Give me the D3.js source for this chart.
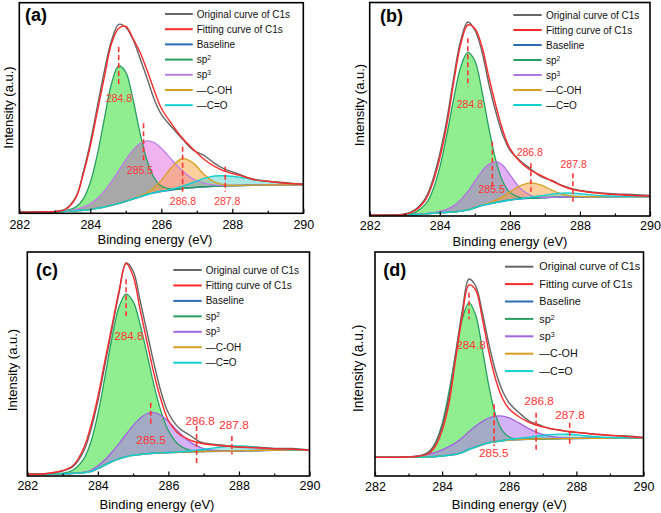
<!DOCTYPE html>
<html><head><meta charset="utf-8">
<script src="https://cdn.jsdelivr.net/npm/d3@7"></script>
<style>
body{margin:0;background:#fff}
svg{display:block}
text{font-family:"Liberation Sans",Arial,Helvetica,sans-serif}
</style>
</head><body>
<svg id="chart" width="661" height="513"></svg>
<script>
// ---------- data ----------
const energy = [282, 282.5, 283, 283.3, 283.6, 283.8, 284.0, 284.2, 284.4, 284.6, 284.8, 285.0, 285.2, 285.4, 285.6, 285.8, 286.0, 286.3, 286.6, 286.9, 287.2, 287.5, 287.8, 288.2, 288.6, 289.0, 289.5, 290];
const majorTicks = [282, 284, 286, 288, 290];
const minorTicks = [283, 285, 287, 289];
const seriesNames = ["Original curve of C1s", "Fitting curve of C1s", "Baseline", "sp2", "sp3", "\u2014C-OH", "\u2014C=O"];
const peakLabels = ["284.8", "285.5", "286.8", "287.8"];
const panelLabels = ["(a)", "(b)", "(c)", "(d)"];

// panel (a)
const a_original = [1, 1.3, 1.8, 4.3, 17, 41, 71, 107, 143, 173, 189, 186, 174, 155, 135, 114, 99, 86, 74, 63, 58, 50, 44, 39, 33.5, 32, 30.5, 29];
const a_fit      = [1, 1.3, 1.8, 3.8, 16, 39, 67, 102, 137, 170, 185, 187, 175, 161, 143, 123, 105, 89, 75, 64, 54, 47, 42, 38, 34, 32, 30, 29];
const a_baseline = [1, 1.3, 1.5, 2, 2.5, 3, 3.8, 5, 6.3, 8, 9.8, 12, 14.3, 16.5, 18.8, 20.5, 21.8, 23.3, 24.8, 25.7, 26.5, 27, 27.5, 27.8, 28.1, 28.3, 28.5, 28.6];
const a_sp2      = [0, 0, 0, 0.6, 3.9, 11.2, 27, 54, 89, 122, 137.7, 129, 100, 64, 34, 15, 5.5, 0.8, 0, 0, 0, 0, 0, 0, 0, 0, 0, 0];
const a_sp3      = [0, 0, 0.1, 0.5, 1.5, 3.1, 5.8, 10.1, 16.1, 23.9, 32.8, 41.6, 48.9, 53.3, 53.7, 50.1, 43.2, 30, 17.5, 8.6, 3.6, 1.2, 0.4, 0, 0, 0, 0, 0];
const a_COH      = [0, 0, 0, 0, 0, 0, 0, 0, 0, 0, 0, 0, 0.2, 0.6, 2, 5.3, 11.1, 23, 30, 24.5, 12.6, 4.1, 0.8, 0, 0, 0, 0, 0];
const a_CO       = [0, 0, 0, 0, 0, 0, 0, 0, 0, 0, 0, 0, 0, 0, 0, 0, 0.2, 0.8, 2.3, 5.1, 8.4, 10.3, 10, 8.3, 5.9, 3.6, 1.5, 0.5];
const a_peakPos  = [284.8, 285.5, 286.6, 287.8];

// panel (b)
const b_original = [0.7, 1, 2, 6.5, 18.5, 36, 62, 96, 139, 176, 194, 186, 165, 132, 104, 81, 66, 55, 47, 39, 35.5, 30.5, 27, 24.5, 23, 22, 21.5, 20.5];
const b_fit      = [0.7, 0.9, 1.5, 5.5, 16.5, 33, 57.7, 91, 134, 172, 191, 187.5, 170, 139, 110.5, 85.5, 67.7, 54, 45.5, 40.3, 35, 30, 26.5, 24, 22.5, 21.5, 20.5, 20];
const b_baseline = [0.7, 0.8, 1, 1.5, 2.1, 2.7, 3.2, 3.6, 4, 5, 6, 8.2, 10.5, 12, 13.5, 14.8, 16, 17, 17.7, 18.2, 18.7, 19, 19.1, 19.2, 19.3, 19.4, 19.5, 19.5];
const b_sp2      = [0, 0, 0.3, 2.2, 10, 23, 45.4, 77.6, 113.6, 144.3, 157.6, 147, 115, 76, 42.1, 19.7, 7.7, 1.4, 0.2, 0, 0, 0, 0, 0, 0, 0, 0, 0];
const b_sp3      = [0, 0, 0, 0, 0.2, 0.6, 1.4, 3.1, 6.4, 11.4, 18.4, 26.6, 34.2, 39.6, 40.8, 35.6, 25.4, 10.6, 2.8, 0.5, 0, 0, 0, 0, 0, 0, 0, 0];
const b_COH      = [0, 0, 0, 0, 0, 0, 0, 0, 0, 0, 0, 0, 0.3, 1, 2.3, 4.6, 7.9, 13.3, 15.5, 12.6, 7.2, 2.9, 0.8, 0.1, 0, 0, 0, 0];
const b_CO       = [0, 0, 0, 0, 0, 0, 0, 0, 0, 0, 0, 0, 0, 0, 0, 0, 0, 0.4, 1, 2, 3.2, 3.9, 3.8, 2.4, 1, 0.3, 0, 0];
const b_peakPos  = [284.8, 285.5, 286.6, 287.8];

// panel (c)
const c_original = [1.7, 2.2, 5, 9.5, 25, 46, 75, 111, 147, 183, 213, 205, 175, 143, 111, 83, 63, 48, 41, 34, 32, 31, 29.5, 28.5, 28.5, 27.5, 27.5, 26];
const c_fit      = [1.7, 2.3, 5.5, 10.5, 28, 50, 79, 115, 150, 185, 212.5, 200, 166, 133, 101, 75, 55.5, 42, 36.2, 33, 31.2, 30.3, 29.4, 28.7, 28, 27.3, 26.7, 26];
const c_baseline = [1.7, 1.8, 2.2, 2.6, 3.3, 4.5, 7.5, 11, 14.5, 17.3, 19.3, 20.7, 21.5, 22.2, 22.7, 23.1, 23.4, 23.8, 24.1, 24.4, 24.6, 24.8, 25, 25.3, 25.5, 25.7, 25.9, 26];
const c_sp2      = [0, 0, 0.6, 3.4, 13.8, 29.3, 54.3, 87.8, 123.5, 151.8, 162.5, 153.7, 130, 98.6, 66.8, 40.5, 22, 7.1, 1.8, 0.4, 0, 0, 0, 0, 0, 0, 0, 0];
const c_sp3      = [0, 0, 0, 0, 0.5, 1.2, 2.7, 5.2, 9.3, 15, 22.2, 29.8, 36.3, 40.3, 40.7, 37.4, 31.2, 20, 10.3, 4.3, 1.5, 0.4, 0, 0, 0, 0, 0, 0];
const c_COH      = [0, 0, 0, 0, 0, 0, 0, 0, 0, 0, 0, 0, 0, 0, 0, 0, 0, 0, 0, 0, 0, 0, 0, 0, 0, 0, 0, 0];
const c_CO       = [0, 0, 0, 0, 0, 0, 0, 0, 0, 0, 0, 0, 0, 0, 0, 0, 0, 0.4, 0.9, 1.8, 3, 4.2, 5, 4.6, 3, 1.5, 0.4, 0.1];
const c_peakPos  = [284.8, 285.5, 286.8, 287.8];

// panel (d)
const d_original = [18.7, 18.7, 19.2, 20, 24, 33, 50, 78, 122, 165, 197, 190, 163, 131, 104, 85, 73, 63, 55, 51, 47.5, 46, 44, 43, 41.5, 40.5, 40, 38.5];
const d_fit      = [18.7, 18.7, 19, 19.7, 22.5, 30, 45.5, 72, 116, 160, 191, 186, 157, 123, 96, 77.5, 67, 59, 53.5, 50, 47.7, 45.7, 44.5, 43, 41.7, 40.7, 39.5, 38.3];
const d_baseline = [18.7, 18.7, 18.7, 18.8, 19, 19.4, 20, 20.8, 21.6, 23.5, 26.5, 29, 31.3, 33.2, 34.4, 35.3, 36, 36.4, 36.7, 37, 37.2, 37.4, 37.5, 37.6, 37.7, 37.9, 38.1, 38.3];
const d_sp2      = [0, 0, 0, 0.7, 4.9, 13.8, 32.3, 62.8, 100.6, 133.6, 146.8, 131.7, 95.3, 55.5, 26, 9.8, 3, 0.3, 0, 0, 0, 0, 0, 0, 0, 0, 0, 0];
const d_sp3      = [0, 0.1, 0.6, 1.4, 2.8, 4.3, 6.2, 8.6, 11.5, 14.7, 17.9, 20.9, 23.3, 24.9, 25.5, 24.6, 22.1, 16.5, 10.5, 5.7, 2.6, 1, 0.3, 0, 0, 0, 0, 0];
const d_COH      = [0, 0, 0, 0, 0, 0, 0, 0, 0, 0, 0, 0, 0, 0, 0, 0, 0, 0, 0, 0, 0, 0, 0, 0, 0, 0, 0, 0];
const d_CO       = [0, 0, 0, 0, 0, 0, 0, 0, 0, 0, 0, 0, 0, 0, 0, 0, 0.6, 1.3, 2.2, 3.3, 4.2, 4.5, 4.2, 2.9, 1.5, 0.6, 0.1, 0];
const d_peakPos  = [284.8, 285.55, 286.8, 287.8];

// ---------- layout / styles ----------
const panels = [
  { label: panelLabels[0],
    series: {original: a_original, fit: a_fit, baseline: a_baseline, sp2: a_sp2, sp3: a_sp3, COH: a_COH, CO: a_CO},
    peaks: a_peakPos,
    L: {left: 19.3, right: 303.3, top: 2.7, bottom: 213.3, ymax: 210.6,
        tickPad: 7.3, xTitle: [155, 239], yTitle: [8, 107.5], yFont: 13, pl: [25, 15],
        leg: {x0: 165, x1: 192.7, tx: 196.7, y0: 14, dy: 15.2, fs: 10},
        dash: [[166.3, 126.3], [90, 51.6], [66.6, 21.6], [46.6, 21.6]],
        lab: [[284.81, 114.8], [285.4, 42.8], [286.61, 12.3], [287.86, 12.3]], labFs: 10.5},
    sp3Fill: "#d52cd5", sp3Op: 0.36, sp3Line: "#bd7fe6" },
  { label: panelLabels[1],
    series: {original: b_original, fit: b_fit, baseline: b_baseline, sp2: b_sp2, sp3: b_sp3, COH: b_COH, CO: b_CO},
    peaks: b_peakPos,
    L: {left: 369.7, right: 650, top: 2.5, bottom: 216, ymax: 213.5,
        tickPad: 4.8, xTitle: [510, 241.7], yTitle: [359.3, 105], yFont: 13, pl: [380, 15.5],
        leg: {x0: 513.3, x1: 541.7, tx: 546, y0: 15, dy: 15, fs: 10},
        dash: [[177.7, 129.3], [74.3, 29], [52.7, 24.3], [42.7, 14.3]],
        lab: [[284.86, 112], [285.48, 26.5], [286.57, 64], [287.82, 51.3]], labFs: 10.5},
    sp3Fill: "#c050e8", sp3Op: 0.45, sp3Line: "#b276e2" },
  { label: panelLabels[2],
    series: {original: c_original, fit: c_fit, baseline: c_baseline, sp2: c_sp2, sp3: c_sp3, COH: c_COH, CO: c_CO},
    peaks: c_peakPos,
    L: {left: 27.3, right: 309.5, top: 252, bottom: 476, ymax: 224,
        tickPad: 5.6, xTitle: [157, 504.3], yTitle: [12.3, 370], yFont: 13, pl: [36, 269.3],
        leg: {x0: 173.3, x1: 201.7, tx: 205.7, y0: 270, dy: 15.45, fs: 10},
        dash: [[196.7, 156.7], [73.3, 50], [50, 10], [40, 21.7]],
        lab: [[284.88, 140], [285.51, 36], [286.9, 55.7], [287.86, 51]], labFs: 11.8},
    sp3Fill: "#b173ef", sp3Op: 0.55, sp3Line: "#a266e0" },
  { label: panelLabels[3],
    series: {original: d_original, fit: d_fit, baseline: d_baseline, sp2: d_sp2, sp3: d_sp3, COH: d_COH, CO: d_CO},
    peaks: d_peakPos,
    L: {left: 375, right: 643.5, top: 252, bottom: 476, ymax: 224,
        tickPad: 5.9, xTitle: [509.3, 504.3], yTitle: [358.3, 368.3], yFont: 13.8, pl: [383.3, 269.7],
        leg: {x0: 505, x1: 533.3, tx: 539.3, y0: 266.7, dy: 17.4, fs: 10.8},
        dash: [[183.3, 156.7], [71.7, 30], [63.3, 23.3], [53.3, 31.7]],
        lab: [[284.86, 131.3], [285.54, 23], [286.89, 75], [287.81, 61.7]], labFs: 11.8},
    sp3Fill: "#b173ef", sp3Op: 0.55, sp3Line: "#a266e0" }
];

const C = {
  original: "#666666", fit: "#ff2b2b", baseline: "#2d6db3",
  sp2Fill: "#90ee90", sp2Line: "#2a9f62",
  cohFill: "#f7a23c", cohLine: "#d6a020",
  coFill: "#3ec9c0", coLine: "#12cfd0",
  red: "#ff3535"
};

const svg = d3.select("#chart");
const curve = d3.curveCatmullRom.alpha(0.5);

panels.forEach((p, pi) => {
  const L = p.L, S = p.series;
  const x = d3.scaleLinear().domain([282, 290]).range([L.left, L.right]);
  const y = d3.scaleLinear().domain([0, L.ymax]).range([L.bottom, L.top]);
  const g = svg.append("g");

  const clipId = "clip" + pi;
  svg.append("clipPath").attr("id", clipId).append("rect")
    .attr("x", L.left).attr("y", L.top).attr("width", L.right - L.left).attr("height", L.bottom - L.top);
  const plot = g.append("g").attr("clip-path", `url(#${clipId})`);

  const stacked = comp => energy.map((e, i) => ({e, b: S.baseline[i], t: S.baseline[i] + comp[i]}));
  const area = d3.area().x(d => x(d.e)).y0(d => y(d.b)).y1(d => y(d.t)).curve(curve);
  const topLine = d3.line().x(d => x(d.e)).y(d => y(d.t)).curve(curve);
  const line = d3.line().x(d => x(d[0])).y(d => y(d[1])).curve(curve);
  const pts = arr => energy.map((e, i) => [e, arr[i]]);

  // fills
  plot.append("path").attr("d", area(stacked(S.sp2))).attr("fill", C.sp2Fill);
  plot.append("path").attr("d", area(stacked(S.sp3))).attr("fill", p.sp3Fill).attr("opacity", p.sp3Op);
  plot.append("path").attr("d", area(stacked(S.COH))).attr("fill", C.cohFill).attr("opacity", 0.5);
  plot.append("path").attr("d", area(stacked(S.CO))).attr("fill", C.coFill).attr("opacity", 0.45);

  // lines
  plot.append("path").attr("d", line(pts(S.baseline))).attr("fill", "none").attr("stroke", C.baseline).attr("stroke-width", 1.6);
  plot.append("path").attr("d", topLine(stacked(S.sp2))).attr("fill", "none").attr("stroke", C.sp2Line).attr("stroke-width", 1.3);
  plot.append("path").attr("d", topLine(stacked(S.sp3))).attr("fill", "none").attr("stroke", p.sp3Line).attr("stroke-width", 1.3);
  plot.append("path").attr("d", topLine(stacked(S.COH))).attr("fill", "none").attr("stroke", C.cohLine).attr("stroke-width", 1.3);
  plot.append("path").attr("d", topLine(stacked(S.CO))).attr("fill", "none").attr("stroke", C.coLine).attr("stroke-width", 1.4);
  plot.append("path").attr("d", line(pts(S.original))).attr("fill", "none").attr("stroke", C.original).attr("stroke-width", 1.4);
  plot.append("path").attr("d", line(pts(S.fit))).attr("fill", "none").attr("stroke", C.fit).attr("stroke-width", 1.4);

  // peak markers
  p.peaks.forEach((pe, k) => {
    g.append("line").attr("x1", x(pe)).attr("x2", x(pe))
      .attr("y1", y(L.dash[k][0])).attr("y2", y(L.dash[k][1]))
      .attr("stroke", C.red).attr("stroke-width", 1.6).attr("stroke-dasharray", "5,3");
    g.append("text").attr("x", x(L.lab[k][0])).attr("y", y(L.lab[k][1]))
      .attr("dy", "0.36em").attr("text-anchor", "middle")
      .attr("font-size", L.labFs).attr("fill", C.red).text(peakLabels[k]);
  });

  // axes (inward ticks)
  const ax = g.append("g").attr("transform", `translate(0,${L.bottom})`)
    .call(d3.axisBottom(x).tickValues(majorTicks).tickFormat(d3.format("d")).tickSize(-4.5).tickPadding(L.tickPad));
  ax.select(".domain").remove();
  ax.selectAll("text").attr("font-size", 12.5).attr("fill", "#000").attr("dy", "0.35em")
    .attr("transform", "translate(0,4.5)");
  ax.selectAll("line").attr("stroke", "#000").attr("stroke-width", 1.2);
  const axm = g.append("g").attr("transform", `translate(0,${L.bottom})`)
    .call(d3.axisBottom(x).tickValues(minorTicks).tickFormat("").tickSize(-2.5));
  axm.select(".domain").remove();
  axm.selectAll("line").attr("stroke", "#000").attr("stroke-width", 1.2);

  // frame
  g.append("rect").attr("x", L.left).attr("y", L.top).attr("width", L.right - L.left).attr("height", L.bottom - L.top)
    .attr("fill", "none").attr("stroke", "#000").attr("stroke-width", 1.6);

  // titles
  g.append("text").attr("x", L.xTitle[0]).attr("y", L.xTitle[1]).attr("dy", "0.35em")
    .attr("text-anchor", "middle").attr("font-size", 13).text("Binding energy (eV)");
  g.append("text").attr("transform", `translate(${L.yTitle[0]},${L.yTitle[1]}) rotate(-90)`)
    .attr("dy", "0.35em").attr("text-anchor", "middle").attr("font-size", L.yFont).text("Intensity (a.u.)");
  g.append("text").attr("x", L.pl[0]).attr("y", L.pl[1]).attr("dy", "0.36em")
    .attr("font-size", 18).attr("font-weight", "bold").text(p.label);

  // legend
  const legColors = [C.original, C.fit, C.baseline, C.sp2Line, p.sp3Line, C.cohLine, C.coLine];
  seriesNames.forEach((name, k) => {
    const yy = L.leg.y0 + k * L.leg.dy;
    g.append("line").attr("x1", L.leg.x0).attr("x2", L.leg.x1).attr("y1", yy).attr("y2", yy)
      .attr("stroke", legColors[k]).attr("stroke-width", 2);
    const t = g.append("text").attr("x", L.leg.tx).attr("y", yy).attr("dy", "0.35em")
      .attr("font-size", L.leg.fs).attr("fill", "#111");
    if (name === "sp2" || name === "sp3") {
      t.append("tspan").text("sp");
      t.append("tspan").attr("baseline-shift", "super").attr("font-size", L.leg.fs * 0.65).text(name.slice(2));
    } else {
      t.text(name);
    }
  });
});
</script>
</body></html>
